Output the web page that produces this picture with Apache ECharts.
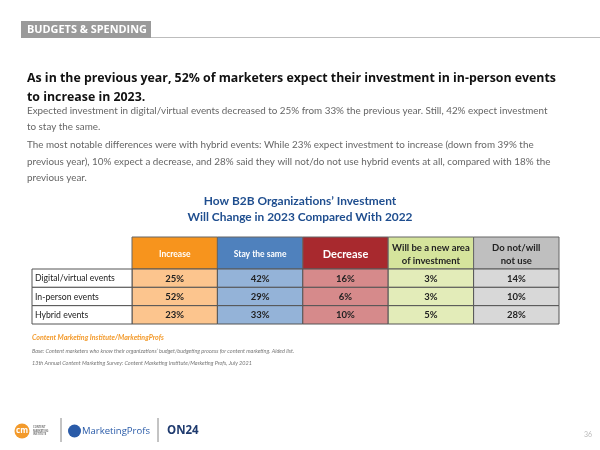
<!DOCTYPE html>
<html><head><meta charset="utf-8">
<script src="https://cdn.jsdelivr.net/npm/echarts@6/dist/echarts.min.js"></script>
<style>html,body{margin:0;padding:0;background:#fff}#c{width:600px;height:450px}</style>
</head><body><div id="c"></div>
<script>
// ---- data ----
const columns = ['Increase', 'Stay the same', 'Decrease', 'Will be a new area\nof investment', 'Do not/will\nnot use'];
const rows = ['Digital/virtual events', 'In-person events', 'Hybrid events'];
const increase = [25, 52, 23];
const staySame = [42, 29, 33];
const decrease = [16, 6, 10];
const newArea = [3, 3, 5];
const doNotUse = [14, 10, 28];
const seriesValues = [increase, staySame, decrease, newArea, doNotUse];

// ---- styles ----
const headerColors = ['#F7941D', '#4F81BD', '#A8292E', '#D5E49C', '#BFBFBF'];
const cellColors = ['#FCC58E', '#94B3D8', '#D68A8B', '#E3ECB9', '#D8D8D8'];
const headerTextColors = ['#fff', '#fff', '#fff', '#222', '#222'];
const headerFontSizes = [8.5, 8.5, 11, 9.5, 9.5];
const FONT = 'Lato, "Open Sans", sans-serif';

const ctx = document.createElement('canvas').getContext('2d');
function fit(text, prefix, family, target) {
  ctx.font = prefix + ' 20px ' + family;
  const w = ctx.measureText(text).width;
  const size = Math.round(20 * target / w * 100) / 100;
  return prefix + ' ' + size + 'px ' + family;
}

const cellData = [];
seriesValues.forEach((arr, ci) => arr.forEach((v, ri) => cellData.push([ci, ri, v])));
const headerData = columns.map((c, i) => [i, 0, c]);
const labelData = rows.map((r, i) => [0, i, r]);

function cellRect(api) {
  const c = api.coord([api.value(0), api.value(1)]);
  const s = api.size([1, 1]);
  return { x: c[0] - s[0] / 2, y: c[1] - s[1] / 2, width: s[0], height: s[1], cx: c[0], cy: c[1] };
}

const chart = echarts.init(document.getElementById('c'), null, { renderer: 'canvas' });

const T = (text, x, y, font, fill, extra) => ({
  type: 'text', x: x, y: y,
  style: Object.assign({ text: text, font: font, fill: fill, textVerticalAlign: 'middle' }, extra || {})
});

const headFont = fit('As in the previous year, 52% of marketers expect their investment in in-person events', 'bold', '"Open Sans", sans-serif', 529);
const paraFont = fit('Expected investment in digital/virtual events decreased to 25% from 33% the previous year. Still, 42% expect investment', '', FONT, 521);
const titleFont = fit('Will Change in 2023 Compared With 2022', 'bold', FONT, 225);
const rowFont = fit('Digital/virtual events', '', FONT, 80);
const srcFont = fit('Content Marketing Institute/MarketingProfs', 'italic bold', FONT, 132);
const baseFont = fit('Base: Content marketers who know their organizations\u2019 budget/budgeting process for content marketing. Aided list.', 'italic', FONT, 263);
const tagFont = fit('BUDGETS & SPENDING', 'bold', '"Open Sans", sans-serif', 120);
const mpFont = fit('MarketingProfs', '', '"Open Sans", sans-serif', 68);

chart.setOption({
  backgroundColor: '#fff',
  animation: false,
  grid: [
    { left: 132, top: 237, width: 427, height: 32 },
    { left: 132, top: 269, width: 427, height: 55 },
    { left: 32, top: 269, width: 100, height: 55 }
  ],
  xAxis: [
    { type: 'category', gridIndex: 0, data: columns, show: false },
    { type: 'category', gridIndex: 1, data: columns, show: false },
    { type: 'category', gridIndex: 2, data: ['label'], show: false }
  ],
  yAxis: [
    { type: 'category', gridIndex: 0, data: ['header'], show: false },
    { type: 'category', gridIndex: 1, data: rows, inverse: true, show: false },
    { type: 'category', gridIndex: 2, data: rows, inverse: true, show: false }
  ],
  series: [
    {
      type: 'custom', xAxisIndex: 0, yAxisIndex: 0, data: headerData,
      renderItem: function (params, api) {
        const r = cellRect(api);
        const i = api.value(0);
        return {
          type: 'group', children: [
            { type: 'rect', shape: { x: r.x, y: r.y, width: r.width, height: r.height },
              style: { fill: headerColors[i], stroke: '#666', lineWidth: 1 } },
            { type: 'text', x: r.cx, y: r.cy + 1,
              style: { text: columns[i], font: 'bold ' + headerFontSizes[i] + 'px ' + FONT,
                fill: headerTextColors[i], align: 'center', verticalAlign: 'middle', lineHeight: 13 } }
          ]
        };
      }
    },
    {
      type: 'custom', xAxisIndex: 1, yAxisIndex: 1, data: cellData,
      renderItem: function (params, api) {
        const r = cellRect(api);
        const i = api.value(0);
        return {
          type: 'group', children: [
            { type: 'rect', shape: { x: r.x, y: r.y, width: r.width, height: r.height },
              style: { fill: cellColors[i], stroke: '#555', lineWidth: 1 } },
            { type: 'text', x: r.cx, y: r.cy + 0.5,
              style: { text: api.value(2) + '%', font: 'bold 9.5px ' + FONT,
                fill: '#222', align: 'center', verticalAlign: 'middle' } }
          ]
        };
      }
    },
    {
      type: 'custom', xAxisIndex: 2, yAxisIndex: 2, data: labelData,
      renderItem: function (params, api) {
        const r = cellRect(api);
        const ri = api.value(1);
        return {
          type: 'group', children: [
            { type: 'rect', shape: { x: r.x, y: r.y, width: r.width, height: r.height },
              style: { fill: '#fff', stroke: '#555', lineWidth: 1 } },
            { type: 'text', x: r.x + 3, y: r.cy + 0.5,
              style: { text: rows[ri], font: rowFont,
                fill: '#222', align: 'left', verticalAlign: 'middle' } }
          ]
        };
      }
    }
  ],
  graphic: [
    { type: 'rect', shape: { x: 21, y: 21, width: 130, height: 17 }, style: { fill: '#9a9a9a' } },
    { type: 'line', shape: { x1: 151, y1: 37.5, x2: 600, y2: 37.5 }, style: { stroke: '#bdbdbd', lineWidth: 1 } },
    T('BUDGETS & SPENDING', 27, 30, tagFont, '#fff'),
    T('As in the previous year, 52% of marketers expect their investment in in-person events', 27, 78, headFont, '#111'),
    T('to increase in 2023.', 27, 97, headFont, '#111'),
    T('Expected investment in digital/virtual events decreased to 25% from 33% the previous year. Still, 42% expect investment', 27, 111, paraFont, '#666'),
    T('to stay the same.', 27, 127, paraFont, '#666'),
    T('The most notable differences were with hybrid events: While 23% expect investment to increase (down from 39% the', 27, 145, paraFont, '#666'),
    T('previous year), 10% expect a decrease, and 28% said they will not/do not use hybrid events at all, compared with 18% the', 27, 162, paraFont, '#666'),
    T('previous year.', 27, 178, paraFont, '#666'),
    T('How B2B Organizations\u2019 Investment', 300, 201, titleFont, '#1F4E8F', { align: 'center' }),
    T('Will Change in 2023 Compared With 2022', 300, 217, titleFont, '#1F4E8F', { align: 'center' }),
    T('Content Marketing Institute/MarketingProfs', 32, 338, srcFont, '#F39A2B'),
    T('Base: Content marketers who know their organizations\u2019 budget/budgeting process for content marketing. Aided list.', 32, 351, baseFont, '#777'),
    T('13th Annual Content Marketing Survey: Content Marketing Institute/Marketing Profs, July 2021', 32, 363, baseFont, '#777'),
    // logos
    { type: 'circle', shape: { cx: 22, cy: 431, r: 7.5 }, style: { fill: '#F39A2B' } },
    T('cm', 22, 431, 'bold 8px "Open Sans", sans-serif', '#fff', { align: 'center' }),
    T('CONTENT\nMARKETING\nINSTITUTE', 33, 431, 'bold 2.6px "Open Sans", sans-serif', '#777', { lineHeight: 3.4 }),
    { type: 'line', shape: { x1: 61, y1: 418, x2: 61, y2: 442 }, style: { stroke: '#888', lineWidth: 1 } },
    { type: 'circle', shape: { cx: 74.5, cy: 431, r: 6.5 }, style: { fill: '#2A5BA8' } },
    T('MarketingProfs', 82, 431, mpFont, '#2A5BA8'),
    { type: 'line', shape: { x1: 158, y1: 418, x2: 158, y2: 442 }, style: { stroke: '#888', lineWidth: 1 } },
    T('ON24', 167, 431, 'bold 11.5px "Open Sans", sans-serif', '#1E3A6E'),
    T('36', 584, 435, '7px ' + FONT, '#bbb')
  ]
});
</script></body></html>
